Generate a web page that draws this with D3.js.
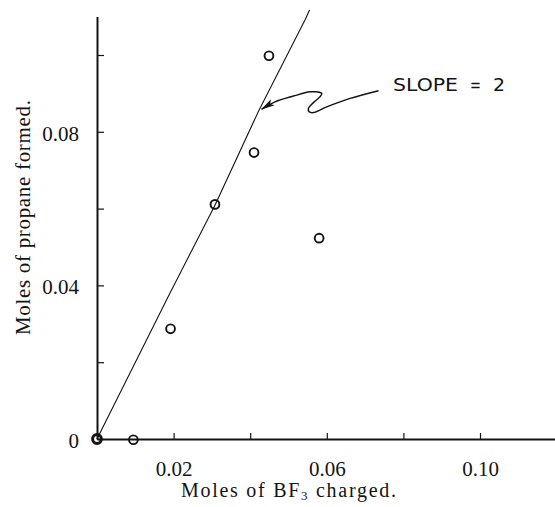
<!DOCTYPE html>
<html>
<head>
<meta charset="utf-8">
<script src="https://cdn.jsdelivr.net/npm/d3@7"></script>
<style>
  body { margin: 0; background: #fff; }
  svg { display: block; background: #fff; }
</style>
</head>
<body>
<svg id="chart" width="555" height="507"></svg>
<script>
(function() {
  'use strict';

  // Moles of BF3 charged vs. moles of propane formed
  var bf3Charged    = [0, 0.0095, 0.0192, 0.0308, 0.0410, 0.0449, 0.0580];
  var propaneFormed = [0, -0.0002, 0.0287, 0.0611, 0.0746, 0.0998, 0.0523];

  // the hand drawn line (slope = 2)
  var fitX = [0, 0.0188, 0.0308, 0.0421, 0.0543, 0.0555];
  var fitY = [0, 0.0375, 0.0609, 0.0852, 0.1091, 0.1117];

  // squiggly pointer from the label to the line
  var arrowX = [0.0735, 0.0661, 0.0600, 0.0565, 0.0554, 0.0552, 0.0565, 0.0582,
                0.0587, 0.0574, 0.0556, 0.0513, 0.0465, 0.0430];
  var arrowY = [0.0907, 0.0887, 0.0865, 0.0850, 0.0852, 0.0861, 0.0876, 0.0891,
                0.0900, 0.0904, 0.0904, 0.0893, 0.0878, 0.0859];

  var xTickValues = [0.02, 0.04, 0.06, 0.08, 0.10];
  var xTickLabels = ["0.02", "", "0.06", "", "0.10"];
  var yTickValues = [0, 0.02, 0.04, 0.06, 0.08, 0.10];
  var yTickLabels = ["0", "", "0.04", "", "0.08", ""];

  var slopeLabel = ["SLOPE", "=", "2"];
  var slopeLabelX = [0.0773, 0.0974, 0.1034];
  var slopeLabelY = 0.0906;

  var serif = "'Liberation Serif', 'Times New Roman', serif";
  var ink = "#141414";

  var svg = d3.select("#chart");

  var x = d3.scaleLinear().domain([0, 0.12]).range([97, 556.6]);
  var y = d3.scaleLinear().domain([0, 0.11]).range([439, 16.6]);

  var points = bf3Charged.map(function(d, i) {
    return { x: d, y: propaneFormed[i] };
  });

  // axes
  var xAxis = d3.axisBottom(x)
    .tickValues(xTickValues)
    .tickFormat(function(d, i) { return xTickLabels[i]; })
    .tickSize(-6)
    .tickSizeOuter(0)
    .tickPadding(22);

  var yAxis = d3.axisLeft(y)
    .tickValues(yTickValues)
    .tickFormat(function(d, i) { return yTickLabels[i]; })
    .tickSize(-7)
    .tickSizeOuter(0)
    .tickPadding(18);

  var gx = svg.append("g")
    .attr("transform", "translate(0," + y(0) + ")")
    .call(xAxis);

  var gy = svg.append("g")
    .attr("transform", "translate(" + x(0) + ",0)")
    .call(yAxis);

  [gx, gy].forEach(function(g) {
    g.attr("font-family", serif).attr("font-size", 21);
    g.select(".domain").attr("stroke", ink).attr("stroke-width", 2);
    g.selectAll(".tick line").attr("stroke", ink).attr("stroke-width", 1.2);
    g.selectAll(".tick text").attr("fill", ink);
  });
  gy.selectAll(".tick text").attr("dy", "0.4em");

  // fitted line
  var line = d3.line()
    .x(function(d) { return x(d[0]); })
    .y(function(d) { return y(d[1]); });

  svg.append("path")
    .datum(fitX.map(function(d, i) { return [d, fitY[i]]; }))
    .attr("d", line)
    .attr("fill", "none")
    .attr("stroke", ink)
    .attr("stroke-width", 1.1);

  // data points
  svg.append("g")
    .selectAll("circle")
    .data(points)
    .join("circle")
    .attr("cx", function(d) { return x(d.x); })
    .attr("cy", function(d) { return y(d.y); })
    .attr("r", 4.4)
    .attr("fill", "none")
    .attr("stroke", ink)
    .attr("stroke-width", function(d, i) { return i === 0 ? 3 : 1.9; });

  // annotation
  svg.append("defs").append("marker")
    .attr("id", "head")
    .attr("viewBox", "0 0 14 8")
    .attr("refX", 13)
    .attr("refY", 4)
    .attr("markerWidth", 14)
    .attr("markerHeight", 8)
    .attr("markerUnits", "userSpaceOnUse")
    .attr("orient", "auto")
    .append("path")
    .attr("d", "M0,0.5 L14,4 L0,7.5 L3,4 Z")
    .attr("fill", ink);

  var curvy = d3.line()
    .x(function(d) { return x(d[0]); })
    .y(function(d) { return y(d[1]); })
    .curve(d3.curveCatmullRom.alpha(0.5));

  svg.append("path")
    .datum(arrowX.map(function(d, i) { return [d, arrowY[i]]; }))
    .attr("d", curvy)
    .attr("fill", "none")
    .attr("stroke", ink)
    .attr("stroke-width", 1.5)
    .attr("marker-end", "url(#head)");

  var lab = svg.append("g")
    .attr("font-family", "'DejaVu Sans', 'Liberation Sans', sans-serif")
    .attr("font-size", 17)
    .attr("fill", ink);

  lab.selectAll("text")
    .data(slopeLabel)
    .join("text")
    .attr("x", function(d, i) { return x(slopeLabelX[i]); })
    .attr("y", y(slopeLabelY))
    .attr("textLength", function(d, i) { return [65, 11, 12][i]; })
    .attr("lengthAdjust", "spacingAndGlyphs")
    .text(function(d) { return d; });

  // axis titles
  var xt = svg.append("text")
    .attr("x", 181)
    .attr("y", 497)
    .attr("font-family", serif)
    .attr("font-size", 20)
    .attr("fill", ink)
    .attr("textLength", 215)
    .attr("lengthAdjust", "spacing");
  xt.append("tspan").text("Moles of BF");
  xt.append("tspan").attr("font-size", 13).attr("dy", 3).text("3");
  xt.append("tspan").attr("dy", -3).text(" charged.");

  svg.append("text")
    .attr("transform", "translate(29.5,217.5) rotate(-90)")
    .attr("text-anchor", "middle")
    .attr("font-family", serif)
    .attr("font-size", 21)
    .attr("fill", ink)
    .attr("textLength", 235)
    .attr("lengthAdjust", "spacing")
    .text("Moles of propane formed.");
}());
</script>
</body>
</html>
